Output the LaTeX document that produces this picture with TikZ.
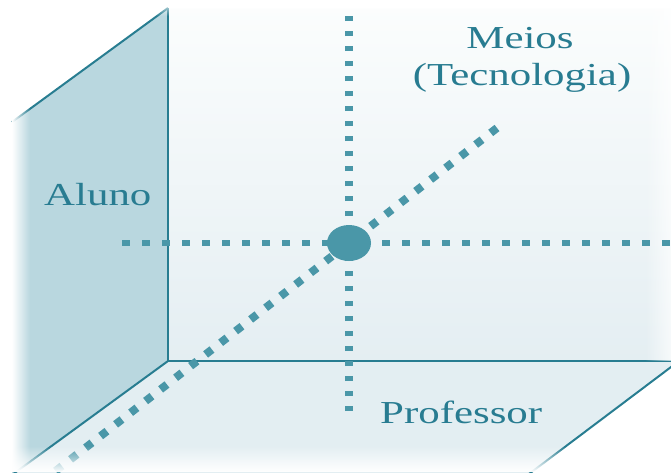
\documentclass[tikz,border=0pt]{standalone}
\usepackage{fontspec}
\setmainfont{Liberation Serif}
\usetikzlibrary{fadings}
\definecolor{edgecol}{RGB}{40,125,145}
\definecolor{dotcol}{RGB}{74,151,168}
\definecolor{txtcol}{RGB}{40,124,145}
\definecolor{wallcol}{RGB}{185,215,223}
\definecolor{floorcol}{RGB}{227,238,242}
\definecolor{backtop}{RGB}{251,253,253}
\definecolor{backbot}{RGB}{228,238,242}
\newcommand\stretchtxt[1]{\scalebox{1.34}[1]{#1}}
\begin{document}
\begin{tikzpicture}[x=1pt,y=-1pt,
  edge/.style={draw=edgecol, line width=2pt},
  axisline/.style={draw=dotcol},
  lbl/.style={text=txtcol, inner sep=0pt, font=\fontsize{32}{38}\selectfont}]
\useasboundingbox (0,0) rectangle (671,472);
\coordinate (backTL) at (168,8);
\coordinate (backBL) at (168,361);
\coordinate (backBR) at (679,361);
\coordinate (leftTop) at (12,122);
\coordinate (floorL) at (5,480);
\coordinate (floorR) at (521,480);
\coordinate (ctr) at (349,243);
\coordinate (hStart) at (122,243);
\coordinate (hEnd) at (671,243);
\coordinate (vBot) at (349,411);
\coordinate (vTop) at (349,8);
\coordinate (dTop) at (497,128);
\coordinate (dBot) at (44,480);
\begin{scope}
\clip (0,0) rectangle (671,472);
% back wall
\shade[top color=backtop, bottom color=backbot] (168,8) rectangle (671,361);
% floor
\fill[floorcol] (backBL) -- (backBR) -- (floorR) -- (floorL) -- cycle;
% left wall
\fill[wallcol] (backTL) -- (leftTop) -- (12,480) -- (floorL) -- (backBL) -- cycle;
% edges
\draw[edge] (backTL) -- (backBL) -- (backBR);
\draw[edge] (backTL) -- (leftTop);
\draw[edge] (backBL) -- (floorL);
\draw[edge] (backBR) -- (floorR);
% right fade of back wall
\fill[white, fill opacity=0.7, path fading=west] (645,8) rectangle (671,361);
% axes
\draw[axisline, line width=6.5pt, dash pattern=on 8pt off 12pt] (hStart) -- (hEnd);
\draw[axisline, line width=7.5pt, dash pattern=on 5pt off 10pt] (vBot) -- (vTop);
\draw[axisline, line width=8pt, dash pattern=on 8pt off 11pt] (dTop) -- (dBot);
\fill[dotcol] (ctr) ellipse [x radius=22pt, y radius=18pt];
% fades
\fill[white, path fading=east] (12,0) rectangle (30,472);
\fill[white, path fading=north] (0,446) rectangle (671,472);
\fill[white, path fading=south] (0,0) rectangle (671,16);
\end{scope}
% labels
\node[lbl, anchor=base] (meios) at (520,48) {\stretchtxt{Meios}};
\node[lbl, anchor=base] (tecno) at (522,85) {\stretchtxt{(Tecnologia)}};
\node[lbl, anchor=base west] (aluno) at (44,205) {\stretchtxt{Aluno}};
\node[lbl, anchor=base west] (prof) at (380,423) {\stretchtxt{Professor}};
\end{tikzpicture}
\end{document}
